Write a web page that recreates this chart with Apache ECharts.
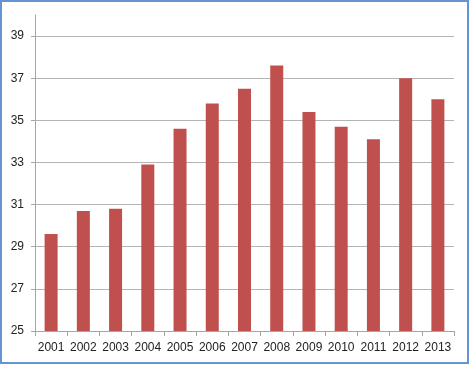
<!DOCTYPE html>
<html>
<head>
<meta charset="utf-8">
<script src="https://cdn.jsdelivr.net/npm/echarts@6/dist/echarts.min.js"></script>
<style>
html,body{margin:0;padding:0;background:#fff;}
#chart{position:absolute;left:0;top:0;width:469px;height:365px;}
#frame{position:absolute;left:0;top:0;width:469px;height:364px;box-sizing:border-box;border:2px solid #6494d4;pointer-events:none;}
</style>
</head>
<body>
<div id="chart"></div>
<div id="frame"></div>
<script>
const categories = ['2001','2002','2003','2004','2005','2006','2007','2008','2009','2010','2011','2012','2013'];
const values = [29.6, 30.7, 30.8, 32.9, 34.6, 35.8, 36.5, 37.6, 35.4, 34.7, 34.1, 37.0, 36.0];
const yMin = 25, yMax = 40, yStep = 2;

const chart = echarts.init(document.getElementById('chart'), null, {renderer: 'canvas'});
const gridColors = ['#b4b4b4','#b4b4b4','#b4b4b4','#b4b4b4','#b4b4b4','#b4b4b4','#b4b4b4','#b4b4b4','rgba(0,0,0,0)'];
chart.setOption({
  animation: false,
  backgroundColor: '#ffffff',
  grid: {left: 35, right: 15, top: 15, bottom: 34, containLabel: false},
  xAxis: {
    type: 'category',
    data: categories,
    axisLine: {lineStyle: {color: '#a6a6a6', width: 1}},
    axisTick: {show: true, length: 5, lineStyle: {color: '#a6a6a6'}},
    axisLabel: {color: '#222', fontFamily: 'Liberation Sans, Arial', fontSize: 12, margin: 11, interval: 0}
  },
  yAxis: {
    type: 'value',
    min: yMin, max: yMax, interval: yStep,
    axisLine: {show: true, lineStyle: {color: '#a6a6a6', width: 1}},
    axisTick: {show: true, length: 4, lineStyle: {color: '#a6a6a6'}},
    axisLabel: {color: '#222', fontFamily: 'Liberation Sans, Arial', fontSize: 12, margin: 11, showMaxLabel: false},
    splitLine: {show: true, lineStyle: {color: gridColors, width: 1}}
  },
  series: [{
    type: 'bar',
    data: values,
    barWidth: 13,
    itemStyle: {color: '#c0504d'}
  }]
});
</script>
</body>
</html>
